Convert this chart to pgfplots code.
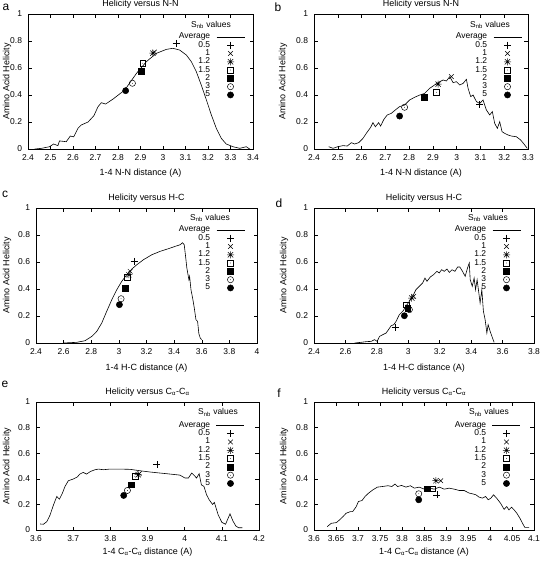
\documentclass[border=0pt]{standalone}
\usepackage{fontspec}
\setmainfont{Liberation Sans}
\usepackage{pgfplots}
\pgfplotsset{compat=1.18}

\pgfdeclareplotmark{gpstar}{%
 \pgfpathmoveto{\pgfqpoint{-\pgfplotmarksize}{0pt}}\pgfpathlineto{\pgfqpoint{\pgfplotmarksize}{0pt}}%
 \pgfpathmoveto{\pgfqpoint{0pt}{-\pgfplotmarksize}}\pgfpathlineto{\pgfqpoint{0pt}{\pgfplotmarksize}}%
 \pgfpathmoveto{\pgfqpoint{-.75\pgfplotmarksize}{-.75\pgfplotmarksize}}\pgfpathlineto{\pgfqpoint{.75\pgfplotmarksize}{.75\pgfplotmarksize}}%
 \pgfpathmoveto{\pgfqpoint{-.75\pgfplotmarksize}{.75\pgfplotmarksize}}\pgfpathlineto{\pgfqpoint{.75\pgfplotmarksize}{-.75\pgfplotmarksize}}%
 \pgfusepathqstroke}
\pgfdeclareplotmark{gpbox}{%
 \pgfpathrectangle{\pgfqpoint{-\pgfplotmarksize}{-\pgfplotmarksize}}{\pgfqpoint{2\pgfplotmarksize}{2\pgfplotmarksize}}%
 \pgfusepathqstroke
 \pgfpathcircle{\pgfpointorigin}{0.4pt}\pgfusepathqfill}
\pgfdeclareplotmark{gpcirc}{%
 \pgfpathcircle{\pgfpointorigin}{\pgfplotmarksize}\pgfusepathqstroke
 \pgfpathcircle{\pgfpointorigin}{0.4pt}\pgfusepathqfill}

\pgfplotsset{
 gp/.style={
  scale only axis, anchor=south west,
  ymin=0, ymax=1, ytick={0,0.2,0.4,0.6,0.8,1},
  axis line style={line width=0.6bp},
  every tick/.style={black, line width=0.5bp},
  major tick length=3.5bp,
  tick align=inside,
  /pgf/number format/assume math mode=true,
  ticklabel style={font=\fontsize{8.5}{8.5}\selectfont},
  xticklabel style={yshift=-2bp},
  yticklabel style={xshift=-2.5bp},
  label style={font=\fontsize{9}{9}\selectfont},
  xlabel style={anchor=center},
  ylabel style={anchor=center},
  title style={font=\fontsize{9}{9}\selectfont, at={(axis description cs:0.5,1)}, anchor=center, yshift=3.5bp},
  xlabel={1-4 N-N distance (A)},
  ylabel={Amino Acid Helicity},
  legend style={at={(rel axis cs:1,1)}, anchor=north east, draw=none, fill=none,
    inner xsep=0pt, inner ysep=0pt, row sep=0pt, column sep=6bp,
    font=\fontsize{8.5}{8.5}\selectfont,
    nodes={inner sep=0pt, text height=6.1bp, text depth=2.2bp}},
  legend cell align=right,
  legend plot pos=right,
  legend image code/.code={\draw[mark repeat=2,mark phase=2,##1] plot coordinates {(0bp,0bp) (14bp,0bp) (28bp,0bp)};},
  legend entries={Average,0.5,1,1.2,1.5,2,3,5},
 },
 avg/.style={black, line width=0.6bp, mark=none},
 pA/.style={black, only marks, line width=0.5bp, mark=+, mark size=3.5bp},
 pB/.style={black, only marks, line width=0.5bp, mark=x, mark size=3.3bp},
 pC/.style={black, only marks, line width=0.5bp, mark=gpstar, mark size=3.5bp},
 pD/.style={black, only marks, line width=0.5bp, mark=gpbox, mark size=2.9bp},
 pE/.style={black, only marks, line width=0.5bp, mark=square*, mark size=2.9bp},
 pF/.style={black, only marks, line width=0.5bp, mark=gpcirc, mark size=3.1bp},
 pG/.style={black, only marks, line width=0.5bp, mark=*, mark size=3.1bp},
}

\begin{document}
\begin{tikzpicture}
\useasboundingbox (0bp,0bp) rectangle (542bp,-561bp);

% ---------------- a
\begin{axis}[gp, at={(28bp,-149bp)}, width=225bp, height=135bp,
 xmin=2.4, xmax=3.4, xtick={2.4,2.5,2.6,2.7,2.8,2.9,3,3.1,3.2,3.3,3.4},
 title={Helicity versus N-N},
 xlabel style={at={(axis description cs:0.5,-0.178)}},
 ylabel style={at={(axis description cs:-0.093,0.5)}},
 legend style={xshift=-8bp, yshift=-18.5bp}]
\addplot[avg] coordinates {(2.43,0)(2.46,0.005)(2.496,0.017)(2.514,0.037)(2.533,0.025)(2.54,0.06)(2.57,0.054)(2.588,0.096)(2.603,0.09)(2.622,0.153)(2.637,0.178)(2.667,0.2)(2.693,0.247)(2.711,0.313)(2.726,0.343)(2.745,0.333)(2.778,0.37)(2.83,0.437)(2.882,0.56)(2.926,0.647)(2.97,0.708)(3.015,0.738)(3.044,0.746)(3.074,0.733)(3.104,0.696)(3.126,0.647)(3.148,0.573)(3.17,0.474)(3.193,0.363)(3.215,0.252)(3.237,0.153)(3.259,0.079)(3.281,0.037)(3.311,0.017)(3.341,0.005)(3.37,0.017)(3.385,0)};
\addplot[pA] coordinates {(3.058,0.782)};
\addplot[pB] coordinates {(2.962,0.718)};
\addplot[pC] coordinates {(2.955,0.71)};
\addplot[pD] coordinates {(2.91,0.635)};
\addplot[pE] coordinates {(2.903,0.578)};
\addplot[pF] coordinates {(2.864,0.487)};
\addplot[pG] coordinates {(2.834,0.432)};
\node[font=\fontsize{8.5}{8.5}\selectfont, xshift=-42bp, yshift=-11bp] at (rel axis cs:1,1) {S\textsubscript{nb} values};
\end{axis}

% ---------------- b
\begin{axis}[gp, at={(314bp,-149bp)}, width=214bp, height=135bp,
 xmin=2.4, xmax=3.3, xtick={2.4,2.5,2.6,2.7,2.8,2.9,3,3.1,3.2,3.3},
 title={Helicity versus N-N},
 xlabel style={at={(axis description cs:0.5,-0.178)}},
 ylabel style={at={(axis description cs:-0.145,0.5)}},
 legend style={xshift=-6bp, yshift=-18.5bp}]
\addplot[avg] coordinates {(2.462,0.017)(2.48,0.005)(2.5,0.017)(2.522,0.025)(2.54,0.022)(2.557,0.047)(2.571,0.037)(2.588,0.047)(2.606,0.079)(2.62,0.116)(2.638,0.16)(2.648,0.195)(2.658,0.165)(2.672,0.195)(2.68,0.17)(2.694,0.22)(2.708,0.252)(2.725,0.264)(2.742,0.289)(2.76,0.314)(2.781,0.326)(2.802,0.363)(2.823,0.383)(2.845,0.4)(2.865,0.412)(2.886,0.449)(2.907,0.474)(2.929,0.499)(2.943,0.511)(2.957,0.504)(2.971,0.536)(2.985,0.491)(2.999,0.499)(3.013,0.474)(3.027,0.486)(3.041,0.516)(3.048,0.449)(3.059,0.388)(3.069,0.4)(3.083,0.351)(3.097,0.338)(3.111,0.363)(3.125,0.289)(3.139,0.252)(3.15,0.277)(3.16,0.19)(3.171,0.153)(3.181,0.202)(3.191,0.128)(3.202,0.116)(3.216,0.104)(3.23,0.096)(3.251,0.091)(3.269,0.067)(3.283,0.037)(3.297,0.005)};
\addplot[pA] coordinates {(3.097,0.331)};
\addplot[pB] coordinates {(2.978,0.536)};
\addplot[pC] coordinates {(2.922,0.481)};
\addplot[pD] coordinates {(2.915,0.42)};
\addplot[pE] coordinates {(2.863,0.383)};
\addplot[pF] coordinates {(2.781,0.309)};
\addplot[pG] coordinates {(2.76,0.244)};
\node[font=\fontsize{8.5}{8.5}\selectfont, xshift=-38bp, yshift=-11bp] at (rel axis cs:1,1) {S\textsubscript{nb} values};
\end{axis}

% ---------------- c
\begin{axis}[gp, at={(36bp,-343bp)}, width=221bp, height=135bp,
 xmin=2.4, xmax=4, xtick={2.4,2.6,2.8,3,3.2,3.4,3.6,3.8,4},
 title={Helicity versus H-C},
 xlabel={1-4 H-C distance (A)},
 xlabel style={at={(axis description cs:0.5,-0.185)}},
 ylabel style={at={(axis description cs:-0.131,0.5)}},
 legend style={xshift=-12bp, yshift=-17.5bp}]
\addplot[avg] coordinates {(2.598,0)(2.695,0.005)(2.755,0.017)(2.804,0.049)(2.84,0.086)(2.876,0.148)(2.912,0.235)(2.949,0.321)(2.985,0.395)(3.021,0.457)(3.057,0.506)(3.094,0.548)(3.13,0.58)(3.178,0.617)(3.239,0.654)(3.299,0.679)(3.36,0.699)(3.408,0.716)(3.444,0.728)(3.461,0.743)(3.473,0.728)(3.483,0.642)(3.492,0.556)(3.507,0.469)(3.512,0.494)(3.522,0.395)(3.536,0.321)(3.546,0.259)(3.558,0.173)(3.57,0.16)(3.579,0.069)(3.589,0.037)(3.599,0.025)};
\addplot[pA] coordinates {(3.111,0.605)};
\addplot[pB] coordinates {(3.082,0.531)};
\addplot[pC] coordinates {(3.072,0.506)};
\addplot[pD] coordinates {(3.062,0.489)};
\addplot[pE] coordinates {(3.045,0.407)};
\addplot[pF] coordinates {(3.016,0.328)};
\addplot[pG] coordinates {(3.004,0.284)};
\node[font=\fontsize{8.5}{8.5}\selectfont, xshift=-47bp, yshift=-10bp] at (rel axis cs:1,1) {S\textsubscript{nb} values};
\end{axis}

% ---------------- d
\begin{axis}[gp, at={(314bp,-343bp)}, width=220bp, height=135bp,
 xmin=2.4, xmax=3.8, xtick={2.4,2.6,2.8,3,3.2,3.4,3.6,3.8},
 title={Helicity versus H-C},
 xlabel={1-4 H-C distance (A)},
 xlabel style={at={(axis description cs:0.5,-0.185)}},
 ylabel style={at={(axis description cs:-0.136,0.5)}},
 legend style={xshift=-13bp, yshift=-17.5bp}]
\addplot[avg] coordinates {(2.658,0)(2.7,0.005)(2.732,0.01)(2.764,0.012)(2.785,0.025)(2.802,0.012)(2.817,0.049)(2.838,0.062)(2.859,0.074)(2.874,0.099)(2.891,0.128)(2.908,0.136)(2.922,0.16)(2.943,0.21)(2.965,0.235)(2.986,0.272)(3.007,0.309)(3.028,0.346)(3.049,0.395)(3.07,0.42)(3.091,0.444)(3.106,0.481)(3.119,0.457)(3.14,0.489)(3.161,0.506)(3.182,0.531)(3.197,0.519)(3.212,0.543)(3.229,0.531)(3.246,0.548)(3.261,0.523)(3.278,0.543)(3.297,0.531)(3.314,0.563)(3.328,0.563)(3.345,0.531)(3.362,0.494)(3.377,0.556)(3.388,0.593)(3.394,0.469)(3.407,0.42)(3.419,0.481)(3.428,0.395)(3.438,0.469)(3.449,0.37)(3.457,0.296)(3.468,0.395)(3.478,0.235)(3.489,0.173)(3.5,0.074)(3.508,0.136)(3.521,0.086)(3.536,0.037)(3.546,0.005)};
\addplot[pA] coordinates {(2.916,0.116)};
\addplot[pB] coordinates {(3.034,0.346)};
\addplot[pC] coordinates {(3.022,0.333)};
\addplot[pD] coordinates {(2.986,0.284)};
\addplot[pE] coordinates {(2.996,0.259)};
\addplot[pF] coordinates {(3.007,0.247)};
\addplot[pG] coordinates {(2.975,0.202)};
\node[font=\fontsize{8.5}{8.5}\selectfont, xshift=-46bp, yshift=-10bp] at (rel axis cs:1,1) {S\textsubscript{nb} values};
\end{axis}

% ---------------- e
\begin{axis}[gp, at={(36bp,-530bp)}, width=223bp, height=128bp,
 xmin=3.6, xmax=4.2, xtick={3.6,3.7,3.8,3.9,4,4.1,4.2},
 title={Helicity versus C\textsubscript{α}-C\textsubscript{α}},
 xlabel={1-4 C\textsubscript{α}-C\textsubscript{α} distance (A)},
 xlabel style={at={(axis description cs:0.5,-0.175)}},
 ylabel style={at={(axis description cs:-0.13,0.5)}},
 legend style={xshift=-14bp, yshift=-19bp}]
\addplot[avg] coordinates {(3.611,0.047)(3.62,0.045)(3.629,0.065)(3.638,0.118)(3.647,0.196)(3.656,0.262)(3.663,0.241)(3.671,0.288)(3.678,0.34)(3.687,0.385)(3.7,0.398)(3.711,0.414)(3.718,0.437)(3.727,0.45)(3.736,0.437)(3.747,0.458)(3.759,0.471)(3.768,0.476)(3.781,0.471)(3.799,0.476)(3.826,0.476)(3.853,0.474)(3.88,0.463)(3.907,0.453)(3.934,0.445)(3.961,0.437)(3.987,0.429)(4.001,0.406)(4.01,0.406)(4.019,0.445)(4.028,0.419)(4.032,0.406)(4.039,0.44)(4.045,0.353)(4.052,0.34)(4.059,0.275)(4.066,0.236)(4.075,0.2)(4.08,0.215)(4.09,0.12)(4.1,0.06)(4.11,0.045)(4.122,0.126)(4.13,0.07)(4.138,0.03)(4.145,0.018)(4.155,0.018)};
\addplot[pA] coordinates {(3.925,0.51)};
\addplot[pB] coordinates {(3.878,0.44)};
\addplot[pC] coordinates {(3.875,0.432)};
\addplot[pD] coordinates {(3.866,0.419)};
\addplot[pE] coordinates {(3.856,0.353)};
\addplot[pF] coordinates {(3.846,0.309)};
\addplot[pG] coordinates {(3.836,0.27)};
\node[font=\fontsize{8.5}{8.5}\selectfont, xshift=-41bp, yshift=-10.5bp] at (rel axis cs:1,1) {S\textsubscript{nb} values};
\end{axis}

% ---------------- f
\begin{axis}[gp, at={(314bp,-530bp)}, width=220bp, height=128bp,
 xmin=3.6, xmax=4.1, xtick={3.6,3.65,3.7,3.75,3.8,3.85,3.9,3.95,4,4.05,4.1},
 title={Helicity versus C\textsubscript{α}-C\textsubscript{α}},
 xlabel={1-4 C\textsubscript{α}-C\textsubscript{α} distance (A)},
 xlabel style={at={(axis description cs:0.5,-0.175)}},
 ylabel style={at={(axis description cs:-0.136,0.5)}},
 legend style={xshift=-13bp, yshift=-19bp}]
\addplot[avg] coordinates {(3.63,0.026)(3.639,0.052)(3.651,0.058)(3.658,0.079)(3.666,0.105)(3.673,0.131)(3.683,0.144)(3.688,0.144)(3.696,0.183)(3.701,0.223)(3.709,0.23)(3.716,0.262)(3.724,0.288)(3.734,0.314)(3.744,0.335)(3.756,0.34)(3.768,0.346)(3.777,0.34)(3.784,0.359)(3.79,0.34)(3.799,0.348)(3.809,0.335)(3.819,0.346)(3.828,0.327)(3.839,0.335)(3.851,0.319)(3.862,0.327)(3.873,0.319)(3.885,0.335)(3.896,0.319)(3.907,0.327)(3.919,0.319)(3.93,0.309)(3.941,0.309)(3.953,0.288)(3.96,0.283)(3.968,0.275)(3.975,0.257)(3.983,0.249)(3.99,0.262)(3.996,0.236)(4.002,0.249)(4.008,0.275)(4.015,0.249)(4.024,0.209)(4.032,0.162)(4.038,0.183)(4.043,0.157)(4.049,0.178)(4.055,0.157)(4.061,0.131)(4.068,0.092)(4.074,0.052)(4.079,0.021)(4.089,0.021)};
\addplot[pA] coordinates {(3.879,0.275)};
\addplot[pB] coordinates {(3.888,0.385)};
\addplot[pC] coordinates {(3.877,0.385)};
\addplot[pD] coordinates {(3.87,0.322)};
\addplot[pE] coordinates {(3.858,0.322)};
\addplot[pF] coordinates {(3.838,0.283)};
\addplot[pG] coordinates {(3.838,0.236)};
\node[font=\fontsize{8.5}{8.5}\selectfont, xshift=-45bp, yshift=-10.5bp] at (rel axis cs:1,1) {S\textsubscript{nb} values};
\end{axis}

\node[font=\fontsize{12}{12}\selectfont] at (6bp,-7bp) {a};
\node[font=\fontsize{12}{12}\selectfont] at (278bp,-7bp) {b};
\node[font=\fontsize{12}{12}\selectfont] at (5bp,-194bp) {c};
\node[font=\fontsize{12}{12}\selectfont] at (279bp,-203bp) {d};
\node[font=\fontsize{12}{12}\selectfont] at (5bp,-384bp) {e};
\node[font=\fontsize{12}{12}\selectfont] at (279bp,-393bp) {f};
\end{tikzpicture}
\end{document}
